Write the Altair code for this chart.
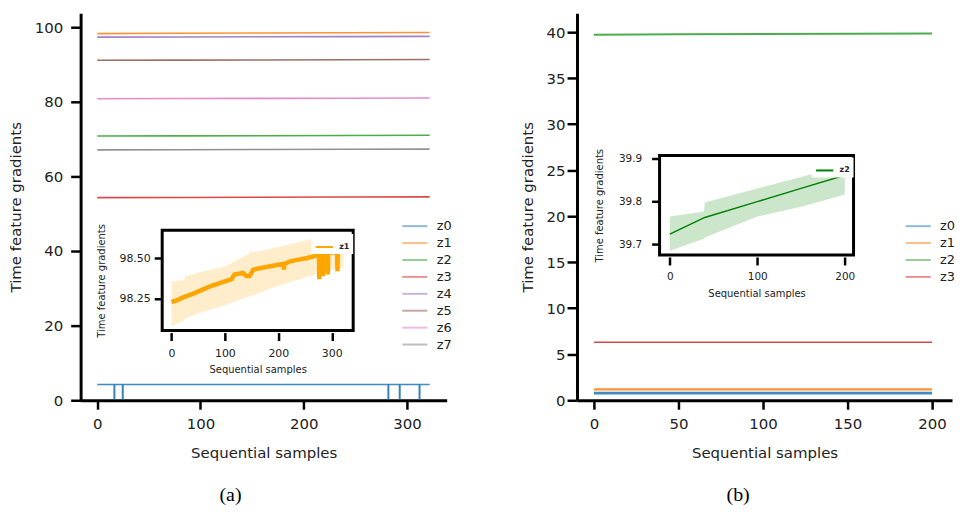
import altair as alt
import pandas as pd

FONT = "DejaVu Sans"

# ---------------- panel (a) : main series ----------------
a_series = ["z0", "z1", "z2", "z3", "z4", "z5", "z6", "z7"]
a_colors = ["#1f77b4", "#ff7f0e", "#2ca02c", "#d62728", "#9467bd", "#8c564b", "#e377c2", "#7f7f7f"]
a_x = [0, 80, 160, 240, 322]
a_z0 = [4.2, 4.2, 4.2, 4.2, 4.2]
a_z1 = [98.24, 98.33, 98.43, 98.48, 98.55]
a_z2 = [70.8, 70.85, 70.9, 70.95, 71.0]
a_z3 = [54.3, 54.35, 54.4, 54.45, 54.5]
a_z4 = [97.3, 97.35, 97.4, 97.45, 97.5]
a_z5 = [91.1, 91.15, 91.2, 91.25, 91.3]
a_z6 = [80.8, 80.85, 80.9, 80.95, 81.0]
a_z7 = [67.1, 67.15, 67.2, 67.25, 67.3]
# downward spikes of z0
a_spike_x = [16.6, 24.7, 282.0, 293.0, 312.2]
a_spike_top = [4.2, 4.2, 4.2, 4.2, 4.2]
a_spike_low = [0.2, 0.2, 0.2, 0.2, 0.2]

# ---------------- panel (a) : inset (z1) ----------------
ia_x_dom = [-17.3, 340.0]
ia_y_dom = [98.053, 98.674]
ia_line_x = [0, 10, 23, 40, 54, 75, 100, 112, 118, 134, 140, 146, 153, 175, 200, 210, 210.6,
             211.2, 221, 235, 252, 270, 276, 276.6, 277.2, 283, 283.6, 284.2, 292, 292.6, 293.2,
             300, 310, 310.6, 311.2, 322]
ia_line_y = [98.23, 98.24, 98.26, 98.28, 98.30, 98.33, 98.357, 98.37, 98.40, 98.41, 98.39,
             98.39, 98.43, 98.445, 98.46, 98.465, 98.43, 98.465, 98.48, 98.49, 98.50, 98.515,
             98.52, 98.37, 98.52, 98.525, 98.39, 98.525, 98.53, 98.40, 98.53, 98.535, 98.54,
             98.42, 98.54, 98.55]
ia_band_x = [0, 24, 25, 60, 100, 146, 148, 152, 200, 250, 300, 322]
ia_upper = [98.357, 98.365, 98.387, 98.42, 98.45, 98.53, 98.555, 98.535, 98.57, 98.61, 98.64, 98.65]
ia_lower = [98.08, 98.115, 98.13, 98.17, 98.21, 98.265, 98.265, 98.27, 98.33, 98.38, 98.43, 98.44]

# ---------------- panel (b) : main series ----------------
b_series = ["z0", "z1", "z2", "z3"]
b_colors = ["#1f77b4", "#ff7f0e", "#2ca02c", "#d62728"]
b_x = [0, 50, 100, 150, 200]
b_z0 = [0.78, 0.78, 0.78, 0.78, 0.78]
b_z1 = [1.18, 1.18, 1.18, 1.18, 1.18]
b_z2 = [39.72, 39.76, 39.80, 39.835, 39.862]
b_z3 = [6.3, 6.3, 6.3, 6.3, 6.3]

# ---------------- panel (b) : inset (z2) ----------------
ib_x_dom = [-11.7, 210.0]
ib_y_dom = [39.675, 39.908]
ib_line_x = [0, 40, 100, 150, 200]
ib_line_y = [39.724, 39.763, 39.80, 39.831, 39.862]
ib_band_x = [0, 39, 40, 100, 150, 175, 200]
ib_upper = [39.765, 39.777, 39.798, 39.831, 39.858, 39.872, 39.885]
ib_lower = [39.685, 39.713, 39.716, 39.765, 39.788, 39.802, 39.817]

W_A, W_B, H = 368, 377, 389

# ---------- data frames ----------
df_a = pd.DataFrame({
    "x": a_x * 8,
    "y": a_z0 + a_z1 + a_z2 + a_z3 + a_z4 + a_z5 + a_z6 + a_z7,
    "series": [s for s in a_series for _ in a_x],
})
df_spk = pd.DataFrame({"x": a_spike_x, "y": a_spike_top, "y2": a_spike_low})
df_ia_line = pd.DataFrame({"x": ia_line_x, "y": ia_line_y, "series": ["z1"] * len(ia_line_x)})
df_ia_band = pd.DataFrame({"x": ia_band_x, "y": ia_lower, "y2": ia_upper})
df_ia_box = pd.DataFrame({"x": [ia_x_dom[0]], "x2": [ia_x_dom[1]], "y": [ia_y_dom[0]], "y2": [ia_y_dom[1]]})

df_b = pd.DataFrame({
    "x": b_x * 4,
    "y": b_z0 + b_z1 + b_z2 + b_z3,
    "series": [s for s in b_series for _ in b_x],
})
df_ib_line = pd.DataFrame({"x": ib_line_x, "y": ib_line_y, "series": ["z2"] * len(ib_line_x)})
df_ib_band = pd.DataFrame({"x": ib_band_x, "y": ib_lower, "y2": ib_upper})
df_ib_box = pd.DataFrame({"x": [ib_x_dom[0]], "x2": [ib_x_dom[1]], "y": [ib_y_dom[0]], "y2": [ib_y_dom[1]]})


def main_legend(lx, ly):
    return alt.Legend(orient="none", legendX=lx, legendY=ly, title=None,
                      symbolType="M-1.4,0H1.4", symbolSize=324, symbolStrokeWidth=2,
                      symbolOpacity=0.5, labelFontSize=13, labelOffset=12, rowPadding=0,
                      padding=0, labelColor="#222")


def inset_legend(lx, ly):
    return alt.Legend(orient="none", legendX=lx, legendY=ly, title=None,
                      symbolType="stroke", symbolSize=300, symbolStrokeWidth=2,
                      labelFontSize=8, labelFontWeight="bold", labelOffset=5,
                      padding=3, fillColor="white", labelColor="#222")


def main_panel(df, spikes, xdom, xvals, ydom, yvals, ylabpad, series, colors, widths, lx, ly):
    xs = alt.Scale(domain=xdom, nice=False, zero=False)
    ys = alt.Scale(domain=ydom, nice=False, zero=False)
    xax = alt.Axis(values=xvals, title="Sequential samples", tickSize=9, labelPadding=7,
                   titlePadding=15)
    yax = alt.Axis(values=yvals, title="Time feature gradients", tickSize=10,
                   labelPadding=ylabpad, titlePadding=11)
    lines = alt.Chart(df).mark_line(opacity=0.85).encode(
        x=alt.X("x:Q", scale=xs, axis=xax),
        y=alt.Y("y:Q", scale=ys, axis=yax),
        color=alt.Color("series:N", scale=alt.Scale(domain=series, range=colors),
                        legend=main_legend(lx, ly)),
        strokeWidth=alt.StrokeWidth("series:N", scale=alt.Scale(domain=series, range=widths),
                                    legend=None),
    )
    layers = [lines]
    if spikes is not None:
        layers.append(alt.Chart(spikes).mark_rule(color=colors[0], strokeWidth=2, opacity=0.9).encode(
            x=alt.X("x:Q", scale=xs, axis=xax),
            y=alt.Y("y:Q", scale=ys, axis=yax),
            y2="y2:Q",
        ))
    return alt.layer(*layers)


def inset_panel(box, band, line, xdom, xrange, xvals, ydom, yrange, yvals, yfmt,
                xoff, yoff, ylabpad, ytitlepad, lab_size, color, name, lx, ly, linew):
    xs = alt.Scale(domain=xdom, range=xrange, nice=False, zero=False)
    ys = alt.Scale(domain=ydom, range=yrange, nice=False, zero=False)
    xax = alt.Axis(orient="bottom", offset=xoff, values=xvals, title="Sequential samples",
                   domain=False, tickSize=8, labelPadding=7, titlePadding=6,
                   labelFontSize=lab_size, titleFontSize=10, zindex=2)
    yax = alt.Axis(orient="left", offset=yoff, values=yvals, format=yfmt,
                   title="Time feature gradients", domain=False, tickSize=8,
                   labelPadding=ylabpad, titlePadding=ytitlepad, labelFontSize=lab_size,
                   titleFontSize=10, zindex=2)
    r = alt.Chart(box).mark_rect(fill="white", stroke="black", strokeWidth=3).encode(
        x=alt.X("x:Q", scale=xs, axis=xax), x2="x2:Q",
        y=alt.Y("y:Q", scale=ys, axis=yax), y2="y2:Q",
    )
    b = alt.Chart(band).mark_area(color=color, opacity=0.2).encode(
        x=alt.X("x:Q", scale=xs, axis=xax),
        y=alt.Y("y:Q", scale=ys, axis=yax), y2="y2:Q",
    )
    l = alt.Chart(line).mark_line(strokeWidth=linew).encode(
        x=alt.X("x:Q", scale=xs, axis=xax),
        y=alt.Y("y:Q", scale=ys, axis=yax),
        color=alt.Color("series:N", scale=alt.Scale(domain=[name], range=[color]),
                        legend=inset_legend(lx, ly)),
    )
    return alt.layer(r, b, l)


main_a = main_panel(df_a, df_spk, [-16.1, 338.5], [0, 100, 200, 300], [0, 103.7],
                    [0, 20, 40, 60, 80, 100], 8, a_series, a_colors,
                    [1.6, 1.6, 1.6, 1.6, 1.6, 1.6, 1.6, 1.6], 326, 204)
inset_a = inset_panel(df_ia_box, df_ia_band, df_ia_line, ia_x_dom, [82, 274], [0, 100, 200, 300],
                      ia_y_dom, [319, 218], [98.25, 98.50], ".2f", -68, -82, 4, 12, 11,
                      "#ffa500", "z1", 232, 222, 4.5)
panel_a = alt.layer(main_a, inset_a).resolve_scale(
    x="independent", y="independent", color="independent"
).properties(width=W_A, height=H,
             title=alt.TitleParams("(a)", orient="bottom", frame="bounds", offset=24))

main_b = main_panel(df_b, None, [-10, 211.8], [0, 50, 100, 150, 200], [0, 42.05],
                    [0, 5, 10, 15, 20, 25, 30, 35, 40], 2, b_series, b_colors,
                    [2.8, 1.6, 1.6, 1.6], 333, 204)
inset_b = inset_panel(df_ib_box, df_ib_band, df_ib_line, ib_x_dom, [83, 278], [0, 100, 200],
                      ib_y_dom, [243, 143], [39.7, 39.8, 39.9], ".1f", -144, -83, 10, 14, 10.5,
                      "#008000", "z2", 236, 145, 1.5)
panel_b = alt.layer(main_b, inset_b).resolve_scale(
    x="independent", y="independent", color="independent"
).properties(width=W_B, height=H,
             title=alt.TitleParams("(b)", orient="bottom", frame="bounds", offset=24))

chart = alt.hconcat(panel_a, panel_b, spacing=67).resolve_scale(
    x="independent", y="independent", color="independent", strokeWidth="independent"
).properties(
    padding={"left": 0, "top": 4, "right": 0, "bottom": 0}
).configure_view(strokeWidth=0).configure_axis(
    grid=False, domainColor="black", domainWidth=3, tickColor="black", tickWidth=2.5,
    labelFont=FONT, titleFont=FONT, labelColor="#222", titleColor="#222",
    titleFontWeight="normal", labelFontSize=15, titleFontSize=15,
).configure_legend(labelFont=FONT).configure_title(
    font="Liberation Serif", fontSize=20, fontWeight="normal", color="black"
)

chart.save("out.html", embed_options={"renderer": "svg", "actions": False})
